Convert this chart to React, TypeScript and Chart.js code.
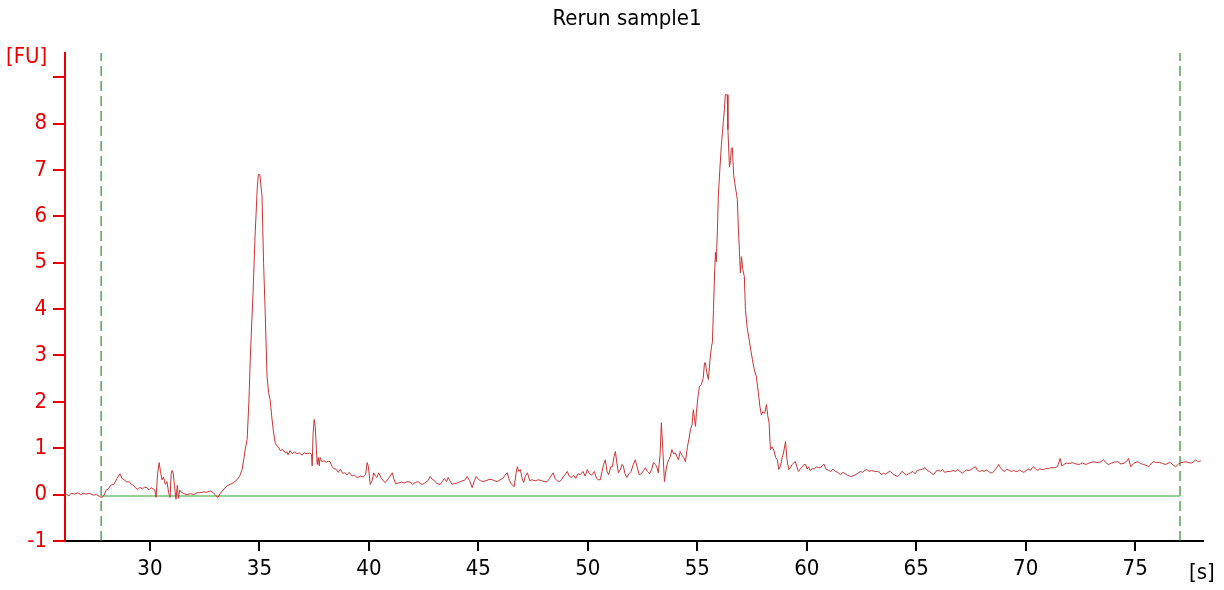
import React, { useEffect, useRef } from "react";
import { Chart, registerables } from "chart.js";

Chart.register(...registerables);

const titleText = "Rerun sample1";
const yUnitLabel = "[FU]";
const xUnitLabel = "[s]";

const xMin = 26.12;
const xMax = 78.1;
const yMin = -1;
const yMax = 9.52;

const xTickValues = [30, 35, 40, 45, 50, 55, 60, 65, 70, 75];
const yTickValues = [-1, 0, 1, 2, 3, 4, 5, 6, 7, 8, 9];
const hiddenYLabel = 9;

const markerStart = 27.77;
const markerEnd = 77.05;
const baselineFU = -0.03;

// [time (s), fluorescence (FU)]
const traceSamples: [number, number][] = [
  [26.15, 0.02], [26.3, -0.03], [26.4, 0.03], [26.55, 0.01], [26.7, 0.04], [26.85, 0.0], [26.95, 0.03],
  [27.1, 0.01], [27.25, 0.03], [27.4, -0.01], [27.55, 0.0], [27.7, -0.04], [27.8, -0.06], [27.9, -0.02],
  [28.0, 0.1], [28.1, 0.12], [28.2, 0.2], [28.35, 0.22], [28.5, 0.35], [28.63, 0.45], [28.72, 0.35],
  [28.82, 0.32], [28.95, 0.27], [29.05, 0.28], [29.15, 0.22], [29.25, 0.2], [29.35, 0.14], [29.45, 0.11],
  [29.55, 0.16], [29.65, 0.12], [29.75, 0.16], [29.87, 0.15], [29.95, 0.1], [30.05, 0.15], [30.15, 0.12],
  [30.22, 0.1], [30.28, -0.06], [30.35, 0.45], [30.42, 0.69], [30.48, 0.5], [30.55, 0.32], [30.62, 0.38],
  [30.7, 0.22], [30.78, 0.28], [30.85, 0.05], [30.92, -0.06], [30.97, 0.45], [31.01, 0.52], [31.06, 0.47],
  [31.12, 0.2], [31.19, -0.1], [31.25, 0.2], [31.3, -0.08], [31.36, 0.1], [31.42, 0.06], [31.55, 0.02],
  [31.7, 0.0], [31.85, 0.02], [32.0, 0.0], [32.15, 0.04], [32.29, 0.04], [32.45, 0.06], [32.6, 0.05],
  [32.75, 0.08], [32.9, 0.04], [33.0, -0.02], [33.11, -0.06], [33.22, 0.03], [33.34, 0.1], [33.5, 0.18],
  [33.66, 0.22], [33.8, 0.25], [33.98, 0.32], [34.1, 0.4], [34.21, 0.54], [34.3, 0.8], [34.35, 0.97],
  [34.44, 1.19], [34.52, 2.0], [34.58, 2.9], [34.65, 3.7], [34.71, 4.35], [34.8, 5.56], [34.9, 6.6],
  [34.95, 6.9], [35.02, 6.9], [35.06, 6.7], [35.12, 6.42], [35.19, 5.0], [35.26, 3.99], [35.35, 2.54],
  [35.42, 2.2], [35.49, 2.05], [35.56, 1.7], [35.63, 1.4], [35.72, 1.12], [35.8, 1.05], [35.86, 1.03],
  [35.95, 0.95], [36.08, 0.97], [36.18, 0.9], [36.25, 0.92], [36.31, 0.86], [36.4, 0.95], [36.5, 0.88],
  [36.6, 0.92], [36.72, 0.88], [36.82, 0.9], [36.95, 0.85], [37.05, 0.9], [37.18, 0.88], [37.3, 0.9],
  [37.38, 0.86], [37.41, 0.62], [37.45, 1.3], [37.5, 1.62], [37.55, 1.47], [37.6, 1.0], [37.64, 0.65],
  [37.69, 0.8], [37.73, 0.62], [37.77, 0.8], [37.85, 0.71], [37.95, 0.73], [38.05, 0.7], [38.15, 0.72],
  [38.23, 0.71], [38.32, 0.6], [38.4, 0.56], [38.5, 0.55], [38.6, 0.48], [38.7, 0.55], [38.8, 0.46],
  [38.9, 0.47], [39.0, 0.42], [39.1, 0.48], [39.24, 0.4], [39.35, 0.42], [39.47, 0.36], [39.6, 0.4],
  [39.75, 0.38], [39.85, 0.43], [39.92, 0.69], [39.98, 0.6], [40.06, 0.22], [40.15, 0.3], [40.22, 0.47],
  [40.3, 0.4], [40.37, 0.37], [40.45, 0.47], [40.55, 0.37], [40.65, 0.3], [40.75, 0.26], [40.9, 0.35],
  [41.0, 0.42], [41.07, 0.47], [41.15, 0.33], [41.22, 0.24], [41.35, 0.25], [41.5, 0.27], [41.62, 0.25],
  [41.75, 0.28], [41.88, 0.27], [42.0, 0.22], [42.12, 0.26], [42.25, 0.28], [42.35, 0.24], [42.44, 0.22],
  [42.55, 0.25], [42.7, 0.3], [42.8, 0.39], [42.9, 0.33], [43.0, 0.3], [43.1, 0.24], [43.26, 0.22],
  [43.35, 0.28], [43.45, 0.35], [43.55, 0.28], [43.62, 0.37], [43.7, 0.3], [43.8, 0.22], [43.9, 0.24],
  [44.05, 0.25], [44.17, 0.28], [44.3, 0.3], [44.4, 0.32], [44.49, 0.39], [44.6, 0.3], [44.72, 0.15],
  [44.82, 0.3], [44.9, 0.39], [45.0, 0.33], [45.1, 0.3], [45.22, 0.28], [45.35, 0.3], [45.5, 0.33],
  [45.64, 0.32], [45.75, 0.3], [45.85, 0.28], [46.0, 0.32], [46.12, 0.35], [46.22, 0.42], [46.32, 0.47],
  [46.42, 0.3], [46.52, 0.22], [46.64, 0.17], [46.72, 0.45], [46.78, 0.6], [46.85, 0.5], [46.92, 0.54],
  [47.0, 0.35], [47.07, 0.26], [47.15, 0.4], [47.24, 0.47], [47.35, 0.3], [47.45, 0.32], [47.6, 0.3],
  [47.75, 0.32], [47.9, 0.3], [48.0, 0.28], [48.15, 0.28], [48.25, 0.35], [48.35, 0.42], [48.42, 0.47],
  [48.5, 0.35], [48.6, 0.3], [48.7, 0.28], [48.8, 0.32], [48.9, 0.4], [49.0, 0.45], [49.06, 0.5],
  [49.15, 0.4], [49.25, 0.37], [49.35, 0.42], [49.45, 0.35], [49.55, 0.45], [49.66, 0.43], [49.78, 0.5],
  [49.88, 0.4], [49.98, 0.54], [50.08, 0.45], [50.18, 0.42], [50.3, 0.5], [50.4, 0.35], [50.5, 0.32],
  [50.57, 0.32], [50.65, 0.5], [50.72, 0.65], [50.8, 0.75], [50.88, 0.5], [50.95, 0.43], [51.05, 0.6],
  [51.12, 0.6], [51.2, 0.82], [51.26, 0.93], [51.32, 0.7], [51.4, 0.47], [51.5, 0.55], [51.56, 0.65],
  [51.62, 0.62], [51.7, 0.45], [51.78, 0.37], [51.88, 0.45], [51.98, 0.5], [52.08, 0.65], [52.17, 0.75],
  [52.25, 0.6], [52.35, 0.43], [52.45, 0.45], [52.55, 0.52], [52.63, 0.58], [52.72, 0.5], [52.82, 0.45],
  [52.92, 0.55], [53.0, 0.69], [53.09, 0.65], [53.15, 0.6], [53.22, 0.47], [53.3, 0.85], [53.36, 1.55],
  [53.42, 1.03], [53.5, 0.28], [53.58, 0.55], [53.64, 0.69], [53.7, 0.75], [53.77, 0.82], [53.84, 0.97],
  [53.92, 0.88], [54.0, 0.9], [54.07, 0.82], [54.14, 0.75], [54.22, 0.93], [54.3, 0.85], [54.38, 0.8],
  [54.46, 0.71], [54.55, 1.03], [54.62, 1.2], [54.69, 1.4], [54.76, 1.5], [54.82, 1.83], [54.88, 1.6],
  [54.92, 1.47], [54.96, 1.77], [55.03, 2.1], [55.1, 2.33], [55.18, 2.37], [55.27, 2.5], [55.33, 2.84],
  [55.37, 2.84], [55.45, 2.6], [55.51, 2.48], [55.58, 2.9], [55.65, 3.2], [55.69, 3.28], [55.74, 3.99],
  [55.8, 4.9], [55.83, 5.22], [55.87, 5.02], [55.92, 5.7], [55.96, 6.42], [56.03, 7.0], [56.1, 7.54],
  [56.15, 7.8], [56.19, 8.04], [56.24, 8.3], [56.28, 8.62], [56.33, 8.62], [56.37, 8.62], [56.4, 7.87],
  [56.47, 7.07], [56.52, 7.2], [56.55, 7.44], [56.6, 7.48], [56.66, 6.9], [56.72, 6.7], [56.8, 6.45],
  [56.83, 6.36], [56.88, 5.71], [56.93, 5.2], [56.97, 4.78], [57.02, 5.13], [57.08, 4.85], [57.15, 4.7],
  [57.2, 3.99], [57.28, 3.6], [57.35, 3.4], [57.45, 3.1], [57.52, 2.91], [57.6, 2.7], [57.7, 2.54],
  [57.79, 2.2], [57.86, 1.9], [57.93, 1.72], [58.0, 1.79], [58.08, 1.75], [58.16, 1.94], [58.22, 1.7],
  [58.28, 1.55], [58.34, 0.97], [58.42, 1.03], [58.5, 0.95], [58.58, 0.8], [58.66, 0.75], [58.72, 0.54],
  [58.8, 0.62], [58.88, 0.8], [58.94, 0.9], [59.03, 1.14], [59.1, 0.75], [59.18, 0.54], [59.25, 0.58],
  [59.33, 0.65], [59.4, 0.68], [59.48, 0.71], [59.55, 0.6], [59.62, 0.5], [59.7, 0.55], [59.8, 0.6],
  [59.88, 0.65], [59.95, 0.65], [60.02, 0.55], [60.08, 0.6], [60.15, 0.52], [60.25, 0.56], [60.35, 0.55],
  [60.45, 0.6], [60.55, 0.58], [60.63, 0.58], [60.7, 0.62], [60.78, 0.66], [60.88, 0.55], [61.0, 0.52],
  [61.1, 0.5], [61.2, 0.55], [61.3, 0.5], [61.42, 0.48], [61.54, 0.43], [61.65, 0.48], [61.75, 0.45],
  [61.85, 0.42], [62.0, 0.39], [62.1, 0.4], [62.2, 0.42], [62.3, 0.45], [62.46, 0.5], [62.55, 0.48],
  [62.65, 0.52], [62.75, 0.54], [62.85, 0.5], [62.95, 0.52], [63.1, 0.5], [63.23, 0.5], [63.32, 0.48],
  [63.42, 0.43], [63.5, 0.46], [63.6, 0.44], [63.7, 0.48], [63.82, 0.5], [63.92, 0.45], [64.02, 0.42],
  [64.14, 0.39], [64.25, 0.44], [64.35, 0.5], [64.45, 0.47], [64.55, 0.42], [64.65, 0.45], [64.74, 0.47],
  [64.85, 0.5], [64.95, 0.45], [65.05, 0.52], [65.2, 0.54], [65.3, 0.55], [65.4, 0.58], [65.5, 0.52],
  [65.6, 0.5], [65.7, 0.46], [65.79, 0.43], [65.9, 0.5], [66.0, 0.53], [66.1, 0.5], [66.2, 0.54],
  [66.3, 0.48], [66.45, 0.5], [66.57, 0.5], [66.7, 0.52], [66.8, 0.5], [66.9, 0.54], [67.0, 0.5],
  [67.1, 0.46], [67.2, 0.5], [67.3, 0.53], [67.45, 0.52], [67.55, 0.56], [67.62, 0.58], [67.71, 0.6],
  [67.8, 0.52], [67.9, 0.5], [68.0, 0.52], [68.1, 0.5], [68.2, 0.53], [68.3, 0.5], [68.4, 0.47],
  [68.49, 0.47], [68.58, 0.52], [68.67, 0.58], [68.76, 0.65], [68.85, 0.58], [68.95, 0.52], [69.05, 0.5],
  [69.15, 0.55], [69.25, 0.52], [69.35, 0.5], [69.45, 0.52], [69.55, 0.5], [69.63, 0.5], [69.72, 0.53],
  [69.82, 0.5], [69.92, 0.48], [70.02, 0.52], [70.12, 0.55], [70.22, 0.52], [70.3, 0.58], [70.36, 0.6],
  [70.45, 0.55], [70.55, 0.52], [70.65, 0.56], [70.75, 0.54], [70.82, 0.54], [70.92, 0.56], [71.05, 0.56],
  [71.15, 0.58], [71.3, 0.58], [71.45, 0.6], [71.58, 0.78], [71.65, 0.62], [71.75, 0.65], [71.85, 0.68],
  [72.0, 0.67], [72.15, 0.69], [72.3, 0.66], [72.45, 0.65], [72.6, 0.68], [72.75, 0.65], [72.9, 0.68],
  [73.1, 0.71], [73.25, 0.69], [73.4, 0.7], [73.56, 0.75], [73.7, 0.67], [73.79, 0.65], [73.92, 0.68],
  [74.05, 0.7], [74.2, 0.71], [74.35, 0.66], [74.5, 0.68], [74.62, 0.72], [74.7, 0.78], [74.8, 0.6],
  [74.95, 0.68], [75.11, 0.71], [75.25, 0.67], [75.38, 0.65], [75.5, 0.63], [75.62, 0.6], [75.75, 0.68],
  [75.85, 0.71], [75.98, 0.69], [76.1, 0.7], [76.25, 0.67], [76.4, 0.65], [76.52, 0.68], [76.62, 0.69],
  [76.75, 0.63], [76.85, 0.6], [76.98, 0.66], [77.1, 0.69], [77.2, 0.7], [77.31, 0.71], [77.45, 0.69],
  [77.55, 0.68], [77.65, 0.7], [77.77, 0.75], [77.85, 0.72], [77.9, 0.71], [78.0, 0.73],
];

const FONT = '"DejaVu Sans Condensed", "DejaVu Sans", sans-serif';
const RED = "#e60000";
const TRACE = "#c83434";
const DASH_GREEN = "#2f8a2f";
const BASE_GREEN = "#74c074";

const textPlugin = {
  id: "unitText",
  afterDraw(chart: any) {
    const ctx = chart.ctx as CanvasRenderingContext2D;
    ctx.save();
    ctx.font = `22px ${FONT}`;
    ctx.textBaseline = "alphabetic";
    ctx.fillStyle = "#000";
    ctx.textAlign = "center";
    ctx.fillText(titleText, 627, 25);
    ctx.textAlign = "left";
    ctx.fillStyle = RED;
    ctx.fillText(yUnitLabel, 6, 63);
    ctx.fillStyle = "#000";
    ctx.fillText(xUnitLabel, 1189, 579);
    ctx.restore();
  },
};

export default function App() {
  const ref = useRef<HTMLCanvasElement>(null);

  useEffect(() => {
    document.body.style.margin = "0";
    const canvas = ref.current;
    if (!canvas) return;
    const chart = new Chart(canvas, {
      type: "line",
      data: {
        datasets: [
          {
            data: traceSamples.map(([x, y]) => ({ x, y })),
            borderColor: TRACE,
            borderWidth: 1,
            pointRadius: 0,
            tension: 0,
            fill: false,
          },
          {
            data: [
              { x: markerStart, y: baselineFU },
              { x: markerEnd, y: baselineFU },
            ],
            borderColor: BASE_GREEN,
            borderWidth: 1.5,
            pointRadius: 0,
          },
          {
            data: [
              { x: markerStart, y: yMin },
              { x: markerStart, y: yMax },
            ],
            borderColor: DASH_GREEN,
            borderWidth: 1.2,
            borderDash: [10, 5],
            pointRadius: 0,
          },
          {
            data: [
              { x: markerEnd, y: yMin },
              { x: markerEnd, y: yMax },
            ],
            borderColor: DASH_GREEN,
            borderWidth: 1.2,
            borderDash: [10, 5],
            pointRadius: 0,
          },
        ],
      },
      options: {
        animation: false,
        responsive: false,
        devicePixelRatio: 1,
        layout: { padding: { top: 53, right: 21, left: 0, bottom: 0 } },
        plugins: {
          legend: { display: false },
          tooltip: { enabled: false },
          title: { display: false },
        },
        scales: {
          x: {
            type: "linear",
            min: xMin,
            max: xMax,
            afterBuildTicks: (s: any) => {
              s.ticks = xTickValues.map((v) => ({ value: v }));
            },
            afterFit: (s: any) => {
              s.height = 49;
            },
            grid: { drawOnChartArea: false, drawTicks: true, tickLength: 10, color: "#000", lineWidth: 2 },
            border: { display: true, color: "#000", width: 2 },
            ticks: {
              color: "#000",
              font: { family: FONT, size: 22 },
              padding: 5,
              maxRotation: 0,
              autoSkip: false,
              callback: (v: any) => String(v),
            },
          },
          y: {
            type: "linear",
            min: yMin,
            max: yMax,
            afterBuildTicks: (s: any) => {
              s.ticks = yTickValues.map((v) => ({ value: v }));
            },
            afterFit: (s: any) => {
              s.width = 65;
            },
            grid: { drawOnChartArea: false, drawTicks: true, tickLength: 12, color: RED, lineWidth: 2 },
            border: { display: true, color: RED, width: 2 },
            ticks: {
              color: RED,
              font: { family: FONT, size: 22 },
              padding: 6,
              autoSkip: false,
              callback: (v: any) => (v === hiddenYLabel ? "" : String(v)),
            },
          },
        },
      },
      plugins: [textPlugin],
    });
    return () => chart.destroy();
  }, []);

  return (
    <div style={{ position: "absolute", left: 0, top: 0, width: 1224, height: 590 }}>
      <canvas ref={ref} width={1224} height={590} style={{ display: "block", width: 1224, height: 590 }} />
    </div>
  );
}
